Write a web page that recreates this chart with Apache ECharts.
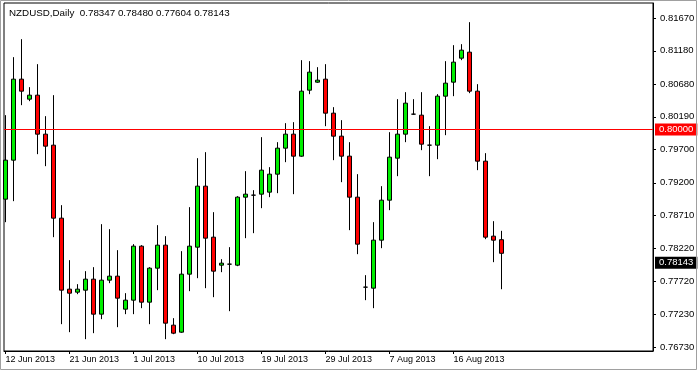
<!DOCTYPE html>
<html><head><meta charset="utf-8">
<script src="https://cdn.jsdelivr.net/npm/echarts@6/dist/echarts.min.js"></script>
<style>html,body{margin:0;padding:0;background:#fff}#c{width:698px;height:371px}</style>
</head><body><div id="c"></div>
<script>
const symbolName = 'NZDUSD,Daily';
const dates = [
 '12 Jun 2013','13 Jun 2013','14 Jun 2013','16 Jun 2013','17 Jun 2013','18 Jun 2013','19 Jun 2013','20 Jun 2013',
 '21 Jun 2013','23 Jun 2013','24 Jun 2013','25 Jun 2013','26 Jun 2013','27 Jun 2013','28 Jun 2013','30 Jun 2013',
 '1 Jul 2013','2 Jul 2013','3 Jul 2013','4 Jul 2013','5 Jul 2013','7 Jul 2013','8 Jul 2013','9 Jul 2013',
 '10 Jul 2013','11 Jul 2013','12 Jul 2013','14 Jul 2013','15 Jul 2013','16 Jul 2013','17 Jul 2013','18 Jul 2013',
 '19 Jul 2013','21 Jul 2013','22 Jul 2013','23 Jul 2013','24 Jul 2013','25 Jul 2013','26 Jul 2013','28 Jul 2013',
 '29 Jul 2013','30 Jul 2013','31 Jul 2013','1 Aug 2013','2 Aug 2013','4 Aug 2013','5 Aug 2013','6 Aug 2013',
 '7 Aug 2013','8 Aug 2013','9 Aug 2013','11 Aug 2013','12 Aug 2013','13 Aug 2013','14 Aug 2013','15 Aug 2013',
 '16 Aug 2013','18 Aug 2013','19 Aug 2013','20 Aug 2013','21 Aug 2013','22 Aug 2013','23 Aug 2013'
];
const opens = [
 0.78955,0.79540,0.80755,0.80455,0.80515,0.79930,0.79765,0.78670,
 0.77605,0.77560,0.77590,0.77755,0.77230,0.77740,0.77800,0.77305,
 0.77440,0.78250,0.77410,0.77920,0.78265,0.77065,0.76960,0.77830,
 0.78235,0.79150,0.78385,0.77965,0.77980,0.77965,0.78985,0.79015,
 0.79030,0.79060,0.79330,0.79720,0.79930,0.79600,0.80590,0.80710,
 0.80755,0.80245,0.79900,0.79600,0.78985,0.77635,0.77620,0.78340,
 0.78940,0.79570,0.79930,0.80230,0.80215,0.79765,0.79765,0.80500,
 0.80710,0.81070,0.81160,0.80575,0.79525,0.78400,0.78347
];
const closes = [
 0.79540,0.80755,0.80575,0.80515,0.79930,0.79750,0.78670,0.77590,
 0.77545,0.77605,0.77755,0.77230,0.77740,0.77800,0.77470,0.77440,
 0.78250,0.77410,0.77920,0.78265,0.77095,0.76945,0.77830,0.78250,
 0.79150,0.78370,0.77875,0.77995,0.77980,0.78985,0.79030,0.79015,
 0.79390,0.79330,0.79720,0.79930,0.79600,0.80575,0.80860,0.80740,
 0.80245,0.79900,0.79600,0.78985,0.78280,0.77635,0.78340,0.78940,
 0.79585,0.79930,0.80395,0.80230,0.79780,0.79765,0.80500,0.80695,
 0.81010,0.81190,0.80575,0.79525,0.78385,0.78340,0.78143
];
const lows = [
 0.78610,0.78925,0.80365,0.80425,0.79630,0.79450,0.78385,0.77080,
 0.76960,0.77530,0.76855,0.76945,0.77155,0.77695,0.77035,0.77230,
 0.77230,0.77320,0.77080,0.77590,0.76855,0.76930,0.76950,0.77575,
 0.77770,0.77620,0.77485,0.77860,0.77275,0.77950,0.78370,0.78445,
 0.78820,0.78985,0.79045,0.79510,0.79030,0.79590,0.80530,0.80700,
 0.80050,0.79540,0.79210,0.78490,0.78130,0.77440,0.77320,0.78220,
 0.78790,0.79300,0.79810,0.80220,0.79690,0.79300,0.79555,0.79915,
 0.80500,0.81040,0.80545,0.79390,0.78355,0.78010,0.77604
];
const highs = [
 0.80215,0.81085,0.81355,0.80635,0.80980,0.80200,0.80515,0.78865,
 0.78040,0.77680,0.77875,0.77935,0.78580,0.78505,0.78190,0.77545,
 0.78280,0.78265,0.77935,0.78565,0.78400,0.77170,0.78175,0.78835,
 0.79570,0.79660,0.78760,0.78055,0.78235,0.79000,0.79375,0.79090,
 0.79885,0.79435,0.79810,0.80095,0.80110,0.81040,0.81025,0.80935,
 0.80980,0.80335,0.80140,0.79810,0.79330,0.77815,0.78610,0.79150,
 0.79960,0.80455,0.80560,0.80455,0.80560,0.80050,0.80530,0.81025,
 0.81265,0.81280,0.81610,0.80680,0.79645,0.78625,0.78480
];
const priceTicks = [0.81670,0.81180,0.80680,0.80190,0.79700,0.79200,0.78710,0.78220,0.77720,0.77230,0.76730];
const dateTickIdx = [0,8,16,24,32,40,48,56];
const levelLine = 0.80000;

const X_MIN = -0.1875, X_MAX = 80.9375;
const candles = dates.map((d, i) => [i, opens[i], closes[i], lows[i], highs[i]]);
const last = dates.length - 1;
const FONT = 'Liberation Sans, Arial, sans-serif';
const boxLabel = (bg, txt) => ({show: true, position: 'end', formatter: txt, color: '#fff', backgroundColor: bg,
  padding: [1, 4, 0, 4], lineHeight: 11, distance: 2, fontFamily: FONT, fontSize: 9.5});

const chart = echarts.init(document.getElementById('c'), null, {renderer: 'canvas'});
chart.setOption({
  animation: false,
  backgroundColor: '#ffffff',
  grid: {left: 4, top: 3, right: 45, bottom: 20, show: true, borderColor: '#000', borderWidth: 1, backgroundColor: '#fff'},
  xAxis: {
    type: 'value', min: X_MIN, max: X_MAX,
    axisLine: {show: true, onZero: false, lineStyle: {color: '#000', width: 1}},
    axisTick: {show: true, customValues: dateTickIdx, length: 3, lineStyle: {color: '#000'}},
    axisLabel: {customValues: dateTickIdx, formatter: v => dates[Math.round(v)] || '', align: 'left',
      margin: 4, color: '#000', fontFamily: FONT, fontSize: 9},
    splitLine: {show: false}
  },
  yAxis: {
    type: 'value', position: 'right', min: 0.766775, max: 0.818975,
    axisLine: {show: true, onZero: false, lineStyle: {color: '#000', width: 1}},
    axisTick: {show: true, customValues: priceTicks, length: 3, lineStyle: {color: '#000'}},
    axisLabel: {customValues: priceTicks, formatter: v => v.toFixed(5), margin: 7,
      color: '#000', fontFamily: FONT, fontSize: 9.5},
    splitLine: {show: false}
  },
  graphic: [
    {type: 'rect', silent: true, z: 100, shape: {x: 0.5, y: 0.5, width: 696, height: 369},
     style: {fill: 'none', stroke: '#a0a0a0', lineWidth: 1}},
    {type: 'text', left: 9, top: 8, z: 100, silent: true,
     style: {text: symbolName + '  ' + [opens[last], highs[last], lows[last], closes[last]].map(v => v.toFixed(5)).join(' '),
       font: '9.8px ' + FONT, fill: '#000'}}
  ],
  series: [
    {
      type: 'candlestick',
      data: candles,
      encode: {x: 0, y: [1, 2, 3, 4]},
      barWidth: 4,
      z: 2,
      itemStyle: {color: '#00ee00', color0: '#ff0000', borderColor: '#000', borderColor0: '#000', borderWidth: 1}
    },
    {
      type: 'line', silent: true, z: 5, symbol: 'none', showSymbol: false,
      data: [[X_MIN, levelLine], [X_MAX, levelLine]],
      lineStyle: {color: '#ff0000', width: 1, type: 'solid', opacity: 1},
      itemStyle: {color: '#ff0000'}
    },
    {
      type: 'line', data: [], z: 6, silent: true,
      markLine: {
        silent: true, symbol: ['none', 'none'], animation: false,
        lineStyle: {color: 'rgba(0,0,0,0)', width: 1, type: 'solid'},
        data: [
          {yAxis: levelLine, label: boxLabel('#ff0000', levelLine.toFixed(5))},
          {yAxis: closes[last], label: boxLabel('#000000', closes[last].toFixed(5))}
        ]
      }
    }
  ]
});
</script></body></html>
